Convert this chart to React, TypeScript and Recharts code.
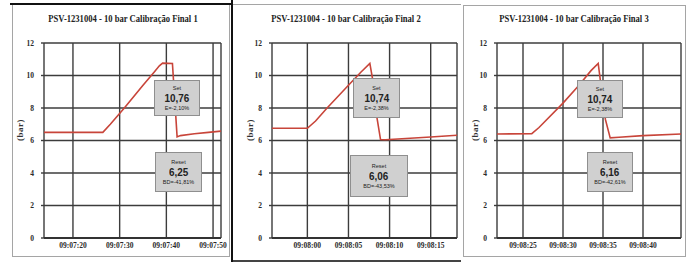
import { LineChart, Line, XAxis, YAxis, CartesianGrid } from 'recharts';

// seconds since 09:00:00
const yTicks = [0, 2, 4, 6, 8, 10, 12];

const titles = [
  'PSV-1231004 - 10 bar Calibração Final 1',
  'PSV-1231004 - 10 bar Calibração Final 2',
  'PSV-1231004 - 10 bar Calibração Final 3',
];

const times1 = [433.8, 446.4, 448, 451, 455, 457.5, 458.5, 459.2, 461.3, 461.8, 462.3, 463, 466, 469, 471.7];
const bar1 = [6.5, 6.5, 7.0, 8.0, 9.4, 10.25, 10.6, 10.76, 10.74, 8.5, 6.22, 6.3, 6.42, 6.5, 6.58];
const xTicks1 = [440, 450, 460, 470];

const times2 = [475.7, 480, 481, 482.4, 485, 486.5, 487.6, 488.0, 488.4, 488.9, 489.5, 492, 495, 498.2];
const bar2 = [6.75, 6.75, 7.2, 8.0, 9.4, 10.2, 10.74, 9.6, 7.6, 6.06, 6.05, 6.12, 6.22, 6.32];
const xTicks2 = [480, 485, 490, 495];

const times3 = [501.75, 506.1, 507, 510, 512, 513.5, 514.4, 514.8, 515.3, 515.9, 517, 520, 524.75];
const bar3 = [6.4, 6.42, 6.8, 8.3, 9.4, 10.3, 10.74, 9.2, 7.3, 6.16, 6.2, 6.3, 6.4];
const xTicks3 = [505, 510, 515, 520];

const setValues = ['10,76', '10,74', '10,74'];
const setErrors = ['E=-2,10%', 'E=-2,38%', 'E=-2,38%'];
const resetValues = ['6,25', '6,06', '6,16'];
const resetErrors = ['BD=-41,81%', 'BD=-43,53%', 'BD=-42,61%'];

const fmt = (s: number) => {
  const m = Math.floor(s / 60);
  const ss = Math.round(s % 60);
  return `09:${String(m).padStart(2, '0')}:${String(ss).padStart(2, '0')}`;
};

const serif = '"Liberation Serif", "DejaVu Serif", serif';
const sans = '"Liberation Sans", Arial, sans-serif';
const gridColor = '#3c3c3c';
const textColor = '#2a2a2a';

const panels = [
  { left: 0, width: 230, times: times1, values: bar1, ticks: xTicks1, domain: [433.8, 471.7], mLeft: 14, mRight: 9, titleX: 123, labelX: 20,
    setBox: { left: 154, top: 80, width: 46, height: 36 }, resetBox: { left: 155, top: 152, width: 47, height: 40 } },
  { left: 230, width: 230, times: times2, values: bar2, ticks: xTicks2, domain: [475.7, 498.2], mLeft: 12, mRight: 3, titleX: 346, labelX: 250,
    setBox: { left: 353, top: 78, width: 47, height: 40 }, resetBox: { left: 350, top: 155, width: 58, height: 42 } },
  { left: 460, width: 229, times: times3, values: bar3, ticks: xTicks3, domain: [501.75, 524.75], mLeft: 7, mRight: 8, titleX: 574, labelX: 475,
    setBox: { left: 577, top: 80, width: 46, height: 38 }, resetBox: { left: 587, top: 152, width: 46, height: 40 } },
];

const TimeTick = ({ x, y, payload }: any) => (
  <text x={x} y={y + 10} textAnchor="middle" fontSize={7.5} fontWeight="bold" fontFamily={serif} fill={textColor}>
    {fmt(payload.value)}
  </text>
);

function Box({ pos, label, value, err }: any) {
  return (
    <div
      style={{
        position: 'absolute', ...pos, boxSizing: 'border-box', background: '#d0d0d0',
        border: '1px solid #8f8f8f', display: 'flex', flexDirection: 'column',
        alignItems: 'center', justifyContent: 'center', fontFamily: sans, color: '#222', lineHeight: 1.1,
      }}
    >
      <div style={{ fontSize: 5.5 }}>{label}</div>
      <div style={{ fontSize: 11, fontWeight: 'bold', margin: '1px 0', transform: 'scaleX(0.9)' }}>{value}</div>
      <div style={{ fontSize: 5.5 }}>{err}</div>
    </div>
  );
}

export default function App() {
  return (
    <div style={{ position: 'absolute', left: 0, top: 0, width: 689, height: 267, background: '#fff', overflow: 'hidden' }}>
      {/* panel frames */}
      <div style={{ position: 'absolute', left: 12, top: 4, width: 218, height: 253, border: '1px solid #a5a5a5', boxSizing: 'border-box' }} />
      <div style={{ position: 'absolute', left: 10, top: 3, width: 222, height: 2, background: '#111' }} />
      <div style={{ position: 'absolute', left: 231, top: 0, width: 2, height: 262, background: '#111' }} />
      <div style={{ position: 'absolute', left: 233, top: 4, width: 228, height: 1, background: '#a5a5a5' }} />
      <div style={{ position: 'absolute', left: 233, top: 260, width: 228, height: 2, background: '#444' }} />
      <div style={{ position: 'absolute', left: 463, top: 5, width: 223, height: 252, border: '1px solid #a5a5a5', boxSizing: 'border-box' }} />

      {panels.map((p, i) => {
        const rows = p.times.map((t, k) => ({ t, v: p.values[k] }));
        return (
          <div key={i}>
            <div style={{ position: 'absolute', left: p.left, top: 0 }}>
              <LineChart width={p.width} height={267} data={rows} margin={{ top: 43, right: p.mRight, bottom: 9, left: p.mLeft }}>
                <CartesianGrid stroke={gridColor} strokeWidth={1.4} strokeOpacity={1} />
                <XAxis
                  type="number" dataKey="t" domain={p.domain} ticks={p.ticks} allowDataOverflow interval={0}
                  height={20} tickLine={false} tickSize={0} tickMargin={0}
                  axisLine={{ stroke: '#333', strokeWidth: 2 }}
                  tick={<TimeTick />}
                />
                <YAxis
                  type="number" domain={[0, 12]} ticks={yTicks} width={30} axisLine={false}
                  stroke="#333" tickSize={3} tickMargin={7} tickLine={{ stroke: gridColor, strokeWidth: 1.4 }}
                  tick={{ fontSize: 7.5, fontWeight: 'bold', fontFamily: serif, fill: textColor }}
                />
                <Line type="linear" dataKey="v" stroke="#c8453a" strokeWidth={1.6} dot={false} isAnimationActive={false} />
              </LineChart>
            </div>
            <div style={{ position: 'absolute', left: p.titleX - 120, top: 12, width: 240, textAlign: 'center', fontFamily: serif, fontWeight: 'bold', fontSize: 11, color: '#222', whiteSpace: 'nowrap', transform: 'scaleX(0.78)' }}>
              {titles[i]}
            </div>
            <div style={{ position: 'absolute', left: p.labelX, top: 130, transform: 'translate(-50%, -50%) rotate(-90deg)', fontFamily: serif, fontWeight: 'bold', fontSize: 9, letterSpacing: 0.5, color: '#333', whiteSpace: 'nowrap' }}>
              (bar)
            </div>
            <Box pos={p.setBox} label="Set" value={setValues[i]} err={setErrors[i]} />
            <Box pos={p.resetBox} label="Reset" value={resetValues[i]} err={resetErrors[i]} />
          </div>
        );
      })}
    </div>
  );
}
